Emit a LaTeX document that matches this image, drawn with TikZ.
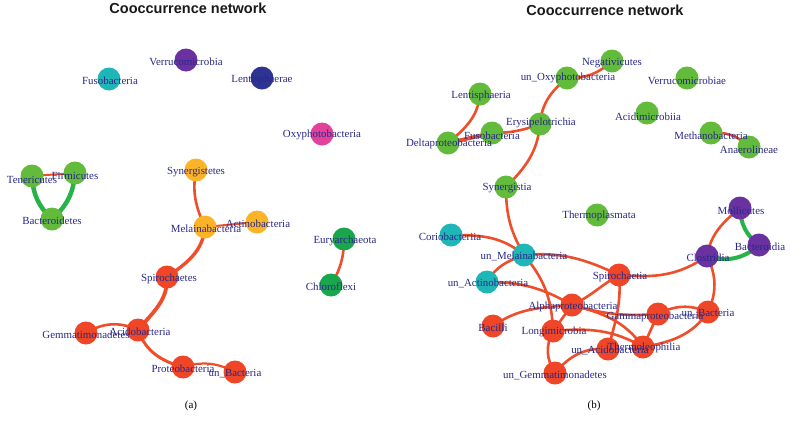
\documentclass[tikz,border=0pt]{standalone}
\usepackage{fontspec}
\setmainfont{Liberation Serif}
\newfontfamily\titlefont{Liberation Sans}
\usetikzlibrary{backgrounds}
\definecolor{cgreen}{RGB}{98,187,58}
\definecolor{cdgreen}{RGB}{26,166,76}
\definecolor{ccyan}{RGB}{30,182,182}
\definecolor{cpurple}{RGB}{106,50,160}
\definecolor{cnavy}{RGB}{46,52,148}
\definecolor{cpink}{RGB}{226,66,155}
\definecolor{cyellow}{RGB}{251,180,40}
\definecolor{cred}{RGB}{238,70,38}
\definecolor{edgered}{RGB}{238,78,42}
\definecolor{edgegreen}{RGB}{40,178,74}
\definecolor{labc}{RGB}{40,40,135}
\begin{document}
\begin{tikzpicture}[x=1pt,y=1pt,
  nd/.style={circle,inner sep=0pt,minimum size=23pt},
  lab/.style={inner sep=0pt,text=labc,font=\fontsize{10.9}{12}\selectfont},
  er/.style={draw=edgered,line width=2.6pt,line cap=round},
  eg/.style={draw=edgegreen,line width=4.5pt,line cap=round},
  ttl/.style={inner sep=0pt,text=black!90,font=\titlefont\bfseries\fontsize{14.5}{16}\selectfont},
  capt/.style={inner sep=0pt,font=\fontsize{11}{13}\selectfont}]
\useasboundingbox (0,0) rectangle (791,-424);

% titles and captions
\node[ttl] (t1) at (188,-8) {Cooccurrence network};
\node[ttl] (t2) at (605,-10.5) {Cooccurrence network};
\node[capt] (ca) at (191,-406) {(a)};
\node[capt] (cb) at (594,-406) {(b)};

% ---------- left panel nodes ----------
\node[nd,fill=ccyan]   (Lf)  at (109,-79) {};
\node[nd,fill=cpurple] (Lv)  at (186,-60) {};
\node[nd,fill=cnavy]   (Ll)  at (262,-78) {};
\node[nd,fill=cpink]   (Lo)  at (322,-134) {};
\node[nd,fill=cgreen]  (Lt)  at (32,-176) {};
\node[nd,fill=cgreen]  (Lfi) at (75,-173) {};
\node[nd,fill=cgreen]  (Lb)  at (52,-219) {};
\node[nd,fill=cyellow] (Lsy) at (196,-170) {};
\node[nd,fill=cyellow] (Lme) at (205,-227) {};
\node[nd,fill=cyellow] (Lac) at (257,-222) {};
\node[nd,fill=cdgreen] (Leu) at (344,-239) {};
\node[nd,fill=cdgreen] (Lch) at (331,-285) {};
\node[nd,fill=cred]    (Lsp) at (167,-277) {};
\node[nd,fill=cred]    (Lad) at (138,-330) {};
\node[nd,fill=cred]    (Lge) at (86,-333) {};
\node[nd,fill=cred]    (Lpr) at (183,-367) {};
\node[nd,fill=cred]    (Lub) at (235,-372) {};

% ---------- right panel nodes ----------
\node[nd,fill=cgreen]  (N)   at (612,-61) {};
\node[nd,fill=cgreen]  (O)   at (567,-78) {};
\node[nd,fill=cgreen]  (V)   at (687,-78) {};
\node[nd,fill=cgreen]  (Le)  at (480,-94) {};
\node[nd,fill=cgreen]  (Ac)  at (647,-113) {};
\node[nd,fill=cgreen]  (Er)  at (540,-124) {};
\node[nd,fill=cgreen]  (Fu)  at (492,-133) {};
\node[nd,fill=cgreen]  (De)  at (448,-143) {};
\node[nd,fill=cgreen]  (Me)  at (711,-133) {};
\node[nd,fill=cgreen]  (An)  at (749,-147) {};
\node[nd,fill=cgreen]  (Sy)  at (506,-187) {};
\node[nd,fill=cgreen]  (Th)  at (597,-215) {};
\node[nd,fill=cpurple] (Mo)  at (740,-208) {};
\node[nd,fill=cpurple] (Bd)  at (759,-245) {};
\node[nd,fill=cpurple] (Cl)  at (707,-256) {};
\node[nd,fill=ccyan]   (Co)  at (451,-235) {};
\node[nd,fill=ccyan]   (uM)  at (524,-255) {};
\node[nd,fill=ccyan]   (uA)  at (487,-282) {};
\node[nd,fill=cred]    (Sp)  at (619,-275) {};
\node[nd,fill=cred]    (Al)  at (572,-305) {};
\node[nd,fill=cred]    (Ga)  at (658,-314) {};
\node[nd,fill=cred]    (uB)  at (708,-312) {};
\node[nd,fill=cred]    (Ba)  at (493,-326) {};
\node[nd,fill=cred]    (Lg)  at (553,-331) {};
\node[nd,fill=cred]    (uAc) at (608,-349) {};
\node[nd,fill=cred]    (Tl)  at (643,-347) {};
\node[nd,fill=cred]    (uG)  at (555,-373) {};

% ---------- edges ----------
\begin{pgfonlayer}{background}
% left
\draw[er,line width=2pt] (Lt.center) -- (Lfi.center);
\draw[eg] (Lt.center) to[bend right=22] (Lb.center);
\draw[eg] (Lfi.center) to[bend left=22] (Lb.center);
\draw[er] (Lsy.center) to[out=-100,in=115] (Lme.center);
\draw[er,line width=2pt] (Lme.center) -- (Lac.center);
\draw[er,line width=3.4pt] (Lme.center) to[out=-95,in=35] (Lsp.center);
\draw[er,line width=3.8pt] (Lsp.center) to[out=-88,in=50] (Lad.center);
\draw[er] (Lge.center) to[bend left=28] (Lad.center);
\draw[er,line width=3pt] (Lad.center) to[out=-70,in=165] (Lpr.center);
\draw[er,line width=2.2pt] (Lpr.center) to[bend left=22] (Lub.center);
\draw[er] (Leu.center) to[bend left=15] (Lch.center);
% right
\draw[er] (O.center) to[bend right=22] (N.center);
\draw[er] (O.center) to[out=-140,in=85] (Er.center);
\draw[er] (Er.center) to[bend left=10] (Fu.center);
\draw[er,line width=3.8pt] (Fu.center) -- (De.center);
\draw[er] (De.center) to[out=40,in=-95] (Le.center);
\draw[er] (Er.center) to[out=-95,in=45] (Sy.center);
\draw[er] (Sy.center) to[out=-90,in=120] (uM.center);
\draw[er] (Me.center) to[bend left=25] (An.center);
\draw[er] (Co.center) to[out=0,in=140] (uM.center);
\draw[er] (uM.center) to[out=200,in=60] (uA.center);
\draw[er] (uM.center) to[out=5,in=155] (Sp.center);
\draw[er] (uM.center) to[out=-50,in=92] (Lg.center);
\draw[er] (uA.center) to[out=0,in=150] (Al.center);
\draw[er] (Ba.center) to[out=35,in=185] (Al.center);
\draw[er] (Lg.center) -- (Al.center);
\draw[er] (Al.center) to[out=25,in=-150] (Sp.center);
\draw[er] (Al.center) to[bend right=10] (Ga.center);
\draw[er] (Al.center) to[out=-15,in=125] (Tl.center);
\draw[er] (Lg.center) to[out=5,in=150] (Tl.center);
\draw[er] (Lg.center) to[bend right=30] (uG.center);
\draw[er] (uG.center) to[out=50,in=175] (uAc.center);
\draw[er] (Sp.center) to[out=-85,in=75] (uAc.center);
\draw[er] (Sp.center) to[out=-5,in=-145] (Cl.center);
\draw[er] (Cl.center) to[out=80,in=-140] (Mo.center);
\draw[eg,line width=4pt] (Cl.center) to[bend right=30] (Bd.center);
\draw[eg,line width=4pt] (Mo.center) to[bend right=25] (Bd.center);
\draw[er] (Cl.center) to[bend left=25] (uB.center);
\draw[er] (Ga.center) to[bend left=25] (uB.center);
\draw[er] (Ga.center) -- (Tl.center);
\draw[er] (uB.center) to[out=-125,in=10] (Tl.center);
\end{pgfonlayer}

% ---------- labels ----------
\node[lab] (Lf-l)  at (110,-81) {Fusobacteria};
\node[lab] (Lv-l)  at (186,-62) {Verrucomicrobia};
\node[lab] (Ll-l)  at (262,-80) {Lentisphaerae};
\node[lab] (Lo-l)  at (322,-135) {Oxyphotobacteria};
\node[lab] (Lt-l)  at (32,-180) {Tenericutes};
\node[lab] (Lfi-l) at (75,-176) {Firmicutes};
\node[lab] (Lb-l)  at (52,-221) {Bacteroidetes};
\node[lab] (Lsy-l) at (196,-172) {Synergistetes};
\node[lab] (Lme-l) at (206,-229) {Melainabacteria};
\node[lab] (Lac-l) at (258,-224) {Actinobacteria};
\node[lab] (Leu-l) at (345,-241) {Euryarchaeota};
\node[lab] (Lch-l) at (331,-287) {Chloroflexi};
\node[lab] (Lsp-l) at (169,-279) {Spirochaetes};
\node[lab] (Lad-l) at (140,-332) {Acidobacteria};
\node[lab] (Lge-l) at (86,-335) {Gemmatimonadetes};
\node[lab] (Lpr-l) at (183,-369) {Proteobacteria};
\node[lab] (Lub-l) at (235,-374) {un\_Bacteria};

\node[lab] (N-l)   at (612,-63) {Negativicutes};
\node[lab] (O-l)   at (568,-78) {un\_Oxyphotobacteria};
\node[lab] (V-l)   at (687,-81) {Verrucomicrobiae};
\node[lab] (Le-l)  at (481,-96) {Lentisphaeria};
\node[lab] (Ac-l)  at (648,-117) {Acidimicrobiia};
\node[lab] (Er-l)  at (541,-123) {Erysipelotrichia};
\node[lab] (Fu-l)  at (492,-136) {Fusobacteria};
\node[lab] (De-l)  at (449,-144) {Deltaproteobacteria};
\node[lab] (Me-l)  at (711,-136) {Methanobacteria};
\node[lab] (An-l)  at (749,-150) {Anaerolineae};
\node[lab] (Sy-l)  at (507,-188) {Synergistia};
\node[lab] (Th-l)  at (599,-216) {Thermoplasmata};
\node[lab] (Mo-l)  at (741,-211) {Mollicutes};
\node[lab] (Bd-l)  at (760,-247) {Bacteroidia};
\node[lab] (Cl-l)  at (708,-258) {Clostridia};
\node[lab] (Co-l)  at (450,-237) {Coriobacteriia};
\node[lab] (uM-l)  at (524,-256) {un\_Melainabacteria};
\node[lab] (uA-l)  at (488,-283) {un\_Actinobacteria};
\node[lab] (Sp-l)  at (620,-277) {Spirochaetia};
\node[lab] (Al-l)  at (573,-307) {Alphaproteobacteria};
\node[lab] (Ga-l)  at (655,-317) {Gammaproteobacteria};
\node[lab] (uB-l)  at (708,-314) {un\_Bacteria};
\node[lab] (Ba-l)  at (493,-328) {Bacilli};
\node[lab] (Lg-l)  at (554,-332) {Longimicrobia};
\node[lab] (uAc-l) at (610,-350) {un\_Acidobacteria};
\node[lab] (Tl-l)  at (644,-348) {Thermoleophilia};
\node[lab] (uG-l)  at (555,-375) {un\_Gemmatimonadetes};
\end{tikzpicture}
\end{document}
